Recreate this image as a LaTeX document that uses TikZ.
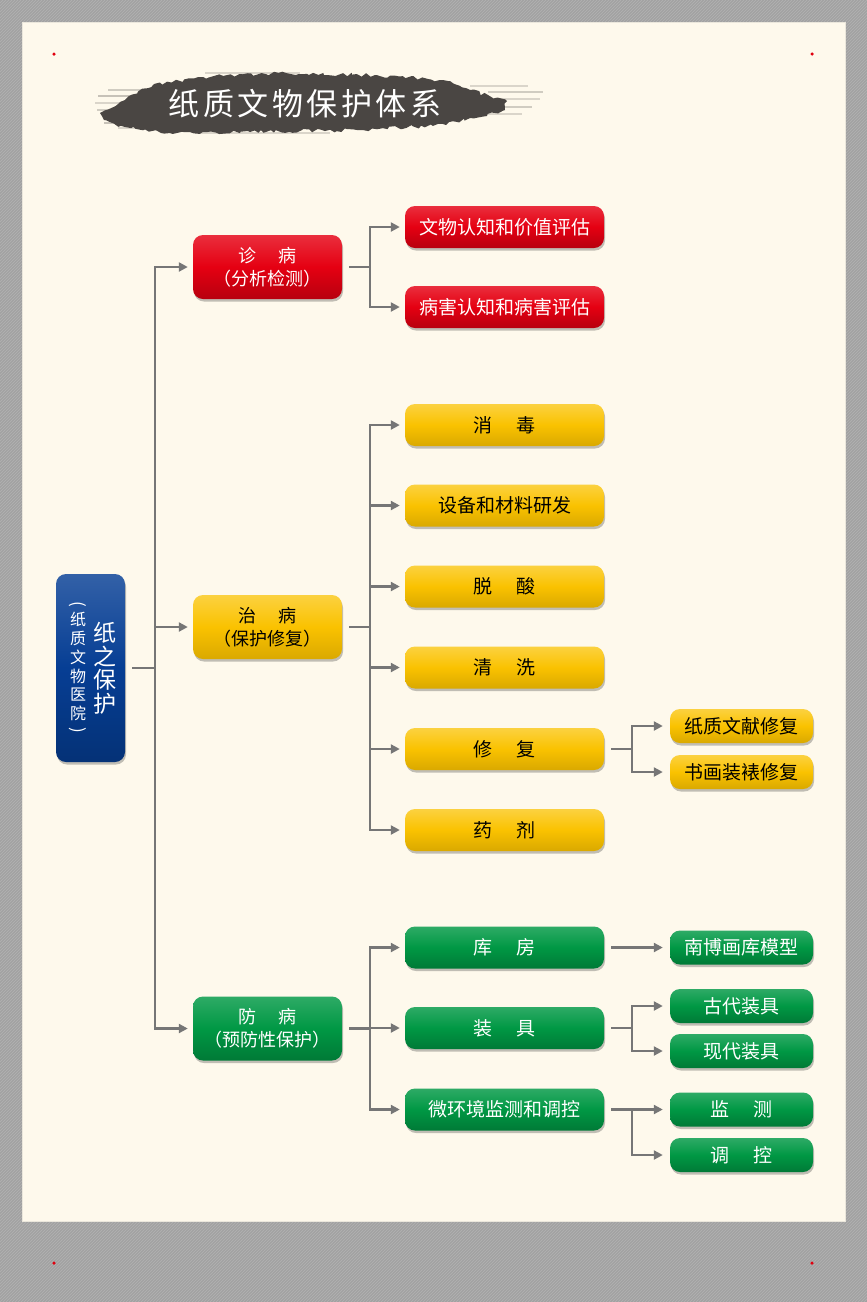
\documentclass[tikz,border=0pt]{standalone}
\usepackage{fontspec}
\setmainfont{Noto Sans CJK SC}
\usetikzlibrary{arrows.meta,shadows,decorations.pathmorphing,patterns}
\definecolor{cream}{HTML}{FEF9EC}
\definecolor{bordergray}{HTML}{A2A2A2}
\definecolor{patgray}{HTML}{B2B2B2}
\definecolor{cred}{HTML}{E50012}
\definecolor{cyellow}{HTML}{FAC200}
\definecolor{cgreen}{HTML}{009844}
\definecolor{cblue}{HTML}{063E94}
\definecolor{lnc}{HTML}{767676}
\definecolor{brush}{HTML}{4A4643}
\definecolor{dotred}{HTML}{E0000F}
\tikzset{
  box/.style={rectangle, rounded corners=10pt, inner sep=0pt,
    drop shadow={shadow xshift=1pt, shadow yshift=-2.5pt, opacity=0.3, fill=black!80}},
  redbox/.style={box, top color=cred!82!white, bottom color=cred!80!black, middle color=cred, text=white},
  yelbox/.style={box, top color=cyellow!75!white, bottom color=cyellow!87!black, middle color=cyellow, text=black},
  grnbox/.style={box, top color=cgreen!82!white, bottom color=cgreen!80!black, middle color=cgreen, text=white},
  blubox/.style={box, top color=cblue!82!white, bottom color=cblue!80!black, middle color=cblue, text=white},
  lone/.style={minimum width=149pt, minimum height=64pt, font=\fontsize{18}{23}\selectfont, align=center},
  ltwo/.style={minimum width=199pt, minimum height=42pt, font=\fontsize{19}{23}\selectfont},
  lthree/.style={minimum width=143pt, minimum height=34pt, font=\fontsize{19}{23}\selectfont},
  conn/.style={draw=lnc, line width=2.3pt},
  arr/.style={conn, -{Triangle[length=9pt,width=9pt]}},
  reddot/.style={fill=dotred, circle, inner sep=0pt, minimum size=3.5pt},
}
\begin{document}
\begin{tikzpicture}[x=1pt,y=-1pt]
\useasboundingbox (0,0) rectangle (867,1302);
% background
\fill[bordergray] (0,0) rectangle (867,1302);
\fill[pattern=north east lines, pattern color=patgray] (0,0) rectangle (867,1302);
\fill[cream] (22,22) rectangle (845,1221);
\draw[cream!85!gray, line width=0.6pt] (22,22) rectangle (845,1221);
% corner dots
\node[reddot] (dA) at (54,54) {};
\node[reddot] (dB) at (812,54) {};
\node[reddot] (dC) at (54,1263) {};
\node[reddot] (dD) at (812,1263) {};
% title brush
\pgfmathsetseed{11}
\foreach \ya/\xa/\xb/\op in {90/108/175/0.25, 96/98/165/0.3, 103/95/150/0.2,
   110/97/140/0.25, 123/104/170/0.3, 128/118/185/0.2, 86/470/528/0.2, 92/488/543/0.25,
   99/495/540/0.2, 107/490/532/0.25, 114/480/522/0.2, 73/205/300/0.2,
   133/200/330/0.2}
  \draw[brush, opacity=\op, line width=1.4pt] (\xa,\ya) -- (\xb,\ya);
\fill[brush, decorate, decoration={random steps, segment length=4pt, amplitude=2pt}]
  (100,113) -- (125,100) -- (154,84) -- (214,76) -- (286,73) -- (375,75) -- (443,80)
  -- (470,90) -- (507,101) -- (505,110) -- (470,118) -- (446,125) -- (357,130)
  -- (250,132) -- (161,133) -- (125,127) -- (104,120) -- cycle;
\node[text=white, font=\fontsize{31}{32}\selectfont] (title) at (305,104)
  {纸\hspace{3.5pt}质\hspace{3.5pt}文\hspace{3.5pt}物\hspace{3.5pt}保\hspace{3.5pt}护\hspace{3.5pt}体\hspace{3.5pt}系};
% root
\node[blubox, minimum width=69pt, minimum height=188pt] (root) at (90.5,668) {};
\node[text=white, font=\fontsize{23}{23.5}\selectfont, align=center, inner sep=0pt] (rt1) at (105,668.5) {纸\\之\\保\\护};
\node[text=white, font=\fontsize{16}{18.8}\selectfont, align=center, inner sep=0pt] (rt2) at (78,666.5) {纸\\质\\文\\物\\医\\院};
\node[text=white, font=\fontsize{17}{17}\selectfont, rotate=-90, inner sep=0pt] (rp1) at (78,604.5) {(};
\node[text=white, font=\fontsize{17}{17}\selectfont, rotate=-90, inner sep=0pt] (rp2) at (78,730) {)};
% level 1
\node[redbox, lone] (d1) at (267.5,267) {诊\hspace{1.2em}病\\（分析检测）};
\node[yelbox, lone] (t1) at (267.5,627) {治\hspace{1.2em}病\\（保护修复）};
\node[grnbox, lone] (f1) at (267.5,1028.5) {防\hspace{1.2em}病\\（预防性保护）};
% level 2
\node[redbox, ltwo] (d21) at (504.5,227) {文物认知和价值评估};
\node[redbox, ltwo] (d22) at (504.5,307) {病害认知和病害评估};
\node[yelbox, ltwo] (t21) at (504.5,425) {消\hspace{1.3em}毒};
\node[yelbox, ltwo] (t22) at (504.5,505.5) {设备和材料研发};
\node[yelbox, ltwo] (t23) at (504.5,586.5) {脱\hspace{1.3em}酸};
\node[yelbox, ltwo] (t24) at (504.5,667.5) {清\hspace{1.3em}洗};
\node[yelbox, ltwo] (t25) at (504.5,749) {修\hspace{1.3em}复};
\node[yelbox, ltwo] (t26) at (504.5,830) {药\hspace{1.3em}剂};
\node[grnbox, ltwo] (f21) at (504.5,947.5) {库\hspace{1.3em}房};
\node[grnbox, ltwo] (f22) at (504.5,1028) {装\hspace{1.3em}具};
\node[grnbox, ltwo] (f23) at (504.5,1109.5) {微环境监测和调控};
% level 3
\node[yelbox, lthree] (t31) at (741.5,726) {纸质文献修复};
\node[yelbox, lthree] (t32) at (741.5,772) {书画装裱修复};
\node[grnbox, lthree] (f31) at (741.5,947.5) {南博画库模型};
\node[grnbox, lthree] (f32) at (741.5,1006) {古代装具};
\node[grnbox, lthree] (f33) at (741.5,1051) {现代装具};
\node[grnbox, lthree] (f34) at (741.5,1109.5) {监\hspace{1.3em}测};
\node[grnbox, lthree] (f35) at (741.5,1155) {调\hspace{1.3em}控};
% connectors: root to level 1
\coordinate (tk) at (155,668);
\draw[conn, shorten <=7pt] (root.east) -- (tk);
\draw[arr, shorten >=5pt] (tk) |- (d1.west);
\draw[arr, shorten >=5pt] (tk) |- (t1.west);
\draw[arr, shorten >=5pt] (tk) |- (f1.west);
% level 1 to level 2
\coordinate (dm) at ([xshift=28pt]d1.east);
\coordinate (tm) at ([xshift=28pt]t1.east);
\coordinate (fm) at ([xshift=28pt]f1.east);
\draw[conn, shorten <=7pt] (d1.east) -- (dm);
\draw[conn, shorten <=7pt] (t1.east) -- (tm);
\draw[conn, shorten <=7pt] (f1.east) -- (fm);
\foreach \c in {d21,d22} \draw[arr, shorten >=5pt] (dm) |- (\c.west);
\foreach \c in {t21,t22,t23,t24,t25,t26} \draw[arr, shorten >=5pt] (tm) |- (\c.west);
\foreach \c in {f21,f22,f23} \draw[arr, shorten >=5pt] (fm) |- (\c.west);
% level 2 to level 3
\coordinate (t5m) at ([xshift=28pt]t25.east);
\coordinate (f2m) at ([xshift=28pt]f22.east);
\coordinate (f3m) at ([xshift=28pt]f23.east);
\draw[conn, shorten <=7pt] (t25.east) -- (t5m);
\draw[conn, shorten <=7pt] (f22.east) -- (f2m);
\draw[conn, shorten <=7pt] (f23.east) -- (f3m);
\draw[arr, shorten <=7pt, shorten >=7pt] (f21.east) -- (f31.west);
\foreach \c in {t31,t32} \draw[arr, shorten >=7pt] (t5m) |- (\c.west);
\foreach \c in {f32,f33} \draw[arr, shorten >=7pt] (f2m) |- (\c.west);
\foreach \c in {f34,f35} \draw[arr, shorten >=7pt] (f3m) |- (\c.west);
\end{tikzpicture}
\end{document}
